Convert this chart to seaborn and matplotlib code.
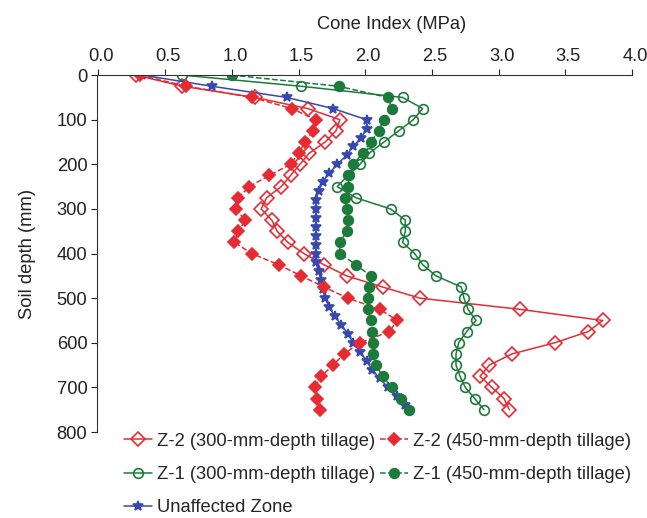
import pandas as pd
import matplotlib
matplotlib.use("Agg")
import matplotlib.pyplot as plt
import matplotlib.transforms as mtransforms
import seaborn as sns

# depths (mm) and cone index (MPa)
depth_25 = [0, 25, 50, 75, 100, 125, 150, 175, 200, 225, 250, 275, 300, 325, 350,
            375, 400, 425, 450, 475, 500, 525, 550, 575, 600, 625, 650, 675, 700, 725, 750]

z2_300 = [0.28, 0.63, 1.17, 1.57, 1.81, 1.78, 1.70, 1.58, 1.51, 1.44, 1.37, 1.26, 1.22, 1.30, 1.34,
          1.42, 1.54, 1.69, 1.86, 2.13, 2.41, 3.16, 3.78, 3.67, 3.42, 3.10, 2.93, 2.86, 2.95, 3.04, 3.08]

z2_450 = [0.31, 0.66, 1.15, 1.45, 1.63, 1.61, 1.55, 1.50, 1.44, 1.28, 1.13, 1.05, 1.03, 1.10, 1.05,
          1.02, 1.15, 1.35, 1.52, 1.69, 1.87, 2.11, 2.24, 2.18, 1.96, 1.84, 1.76, 1.67, 1.62, 1.64, 1.66]

z1_300 = [0.63, 1.52, 2.28, 2.43, 2.36, 2.25, 2.14, 2.03, 1.96, 1.87, 1.79, 1.93, 2.19, 2.30, 2.30,
          2.28, 2.37, 2.43, 2.53, 2.72, 2.74, 2.77, 2.83, 2.76, 2.70, 2.68, 2.68, 2.71, 2.75, 2.82, 2.89]

z1_450 = [1.00, 1.80, 2.17, 2.20, 2.14, 2.10, 2.04, 1.98, 1.91, 1.88, 1.87, 1.85, 1.86, 1.87, 1.86,
          1.81, 1.81, 1.93, 2.04, 2.03, 2.02, 2.02, 2.04, 2.05, 2.06, 2.06, 2.08, 2.13, 2.20, 2.27, 2.33]

depth_unaff = [0, 25, 50, 75, 100, 120, 140, 160, 180, 200, 220, 240, 260, 280, 300, 320, 340, 360,
               380, 400, 420, 440, 460, 480, 500, 520, 540, 560, 580, 600, 620, 640, 660, 680,
               700, 720, 740, 750]
unaffected = [0.33, 0.85, 1.41, 1.76, 2.01, 2.01, 1.97, 1.91, 1.86, 1.79, 1.73, 1.68, 1.65, 1.63,
              1.63, 1.63, 1.63, 1.63, 1.63, 1.63, 1.63, 1.65, 1.67, 1.68, 1.70, 1.73, 1.77, 1.82,
              1.87, 1.91, 1.96, 2.01, 2.05, 2.11, 2.17, 2.24, 2.30, 2.33]

red = "#e62b33"
green = "#1c7a3a"
blue = "#3748b0"

series = [
    ("Z-2 (300-mm-depth tillage)", depth_25, z2_300, red, "D", "none", "-", 7),
    ("Z-1 (300-mm-depth tillage)", depth_25, z1_300, green, "o", "none", "-", 7),
    ("Unaffected Zone", depth_unaff, unaffected, blue, "*", blue, "-", 7),
    ("Z-2 (450-mm-depth tillage)", depth_25, z2_450, red, "D", red, "--", 6),
    ("Z-1 (450-mm-depth tillage)", depth_25, z1_450, green, "o", green, "--", 7),
]

sns.set_style("ticks")
plt.rcParams["font.family"] = ["Liberation Sans", "DejaVu Sans"]

fig = plt.figure(figsize=(6.47, 5.18), dpi=100)
ax = fig.add_axes([0.150, 0.166, 0.827, 0.689])

for name, d, v, col, mk, mfc, ls, ms in series:
    df = pd.DataFrame({"ci": v, "depth": d})
    sns.lineplot(data=df, x="ci", y="depth", sort=False, estimator=None, orient="y",
                 ax=ax, color=col, marker=mk, markersize=ms, markerfacecolor=mfc,
                 markeredgecolor=col, markeredgewidth=1.2, linestyle=ls, linewidth=1.1,
                 label=name)

ax.set_xlim(-0.01, 4.0)
ax.set_ylim(800, 0)
ax.set_xticks([0.0, 0.5, 1.0, 1.5, 2.0, 2.5, 3.0, 3.5, 4.0])
ax.set_xticklabels(["0.0", "0.5", "1.0", "1.5", "2.0", "2.5", "3.0", "3.5", "4.0"])
ax.set_yticks(range(0, 801, 100))
ax.xaxis.tick_top()
ax.xaxis.set_label_position("top")
ax.spines["bottom"].set_visible(False)
ax.spines["right"].set_visible(False)
ax.spines["top"].set_color("#333333")
ax.spines["left"].set_color("#333333")
ax.tick_params(labelsize=13.2, colors="#222222", length=4, pad=3)
ax.set_xlabel("Cone Index (MPa)", fontsize=13.2, color="#222222", labelpad=14, x=0.55)
ax.set_ylabel("Soil depth (mm)", fontsize=13.2, color="#222222", labelpad=15)

# x tick labels sit a little right of their ticks in the original
shift = mtransforms.ScaledTranslation(3 / 100, 0, fig.dpi_scale_trans)
for lab in ax.get_xticklabels():
    lab.set_transform(lab.get_transform() + shift)

handles, labels = ax.get_legend_handles_labels()
ax.get_legend().remove()
fig.legend(handles, labels, ncol=2, loc="upper left", bbox_to_anchor=(0.178, 0.182),
           frameon=False, fontsize=13.2, handlelength=1.5, handletextpad=0.3,
           columnspacing=0.25, labelspacing=0.88, borderpad=0)

fig.savefig("out.png", dpi=100)
